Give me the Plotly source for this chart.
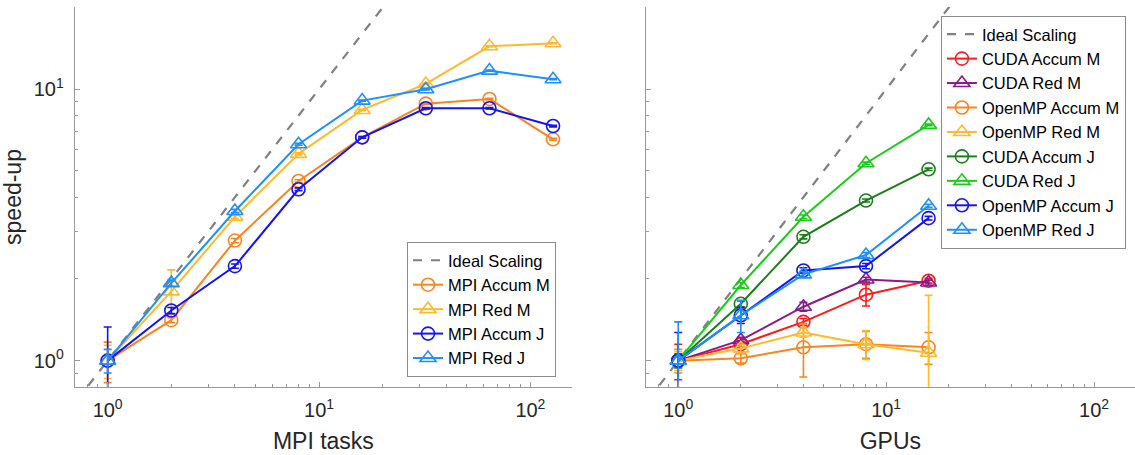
import plotly.graph_objects as go

# ---------------- data ----------------
mpi_tasks = [1, 2, 4, 8, 16, 32, 64, 128]
mpi_accum_m = [1.0, 1.41, 2.77, 4.59, 6.65, 8.85, 9.21, 6.54]
mpi_red_m = [1.0, 1.80, 3.39, 5.78, 8.39, 10.46, 14.4, 14.77]
mpi_accum_j = [1.0, 1.53, 2.23, 4.28, 6.65, 8.51, 8.51, 7.32]
mpi_red_j = [1.0, 1.93, 3.56, 6.27, 9.08, 10.0, 11.71, 10.89]
mpi_accum_m_err = [0.17, 0.03, 0.05, 0.05, 0.05, 0.05, 0.05, 0.05]
mpi_red_m_err = [0.14, 0.36, 0.05, 0.05, 0.05, 0.05, 0.05, 0.05]
mpi_accum_j_err = [0.33, 0.04, 0.04, 0.05, 0.05, 0.05, 0.05, 0.05]
mpi_red_j_err = [0.10, 0.05, 0.05, 0.05, 0.05, 0.05, 0.05, 0.05]

gpus = [1, 2, 4, 8, 16]
cuda_accum_m = [1.0, 1.15, 1.39, 1.75, 1.97]
cuda_red_m = [1.0, 1.19, 1.58, 1.99, 1.94]
omp_accum_m = [1.0, 1.02, 1.12, 1.15, 1.12]
omp_red_m = [1.0, 1.11, 1.27, 1.15, 1.07]
cuda_accum_j = [1.0, 1.62, 2.86, 3.89, 5.07]
cuda_red_j = [1.0, 1.90, 3.39, 5.34, 7.39]
omp_accum_j = [1.0, 1.47, 2.15, 2.23, 3.35]
omp_red_j = [1.0, 1.47, 2.08, 2.45, 3.72]
cuda_accum_m_err = [0.15, 0.03, 0.04, 0.16, 0.04]
cuda_red_m_err = [0.05, 0.03, 0.06, 0.04, 0.04]
omp_accum_m_err = [0.10, 0.04, 0.25, 0.13, 0.15]
omp_red_m_err = [0.08, 0.04, 0.05, 0.14, 0.67]
cuda_accum_j_err = [0.06, 0.04, 0.05, 0.05, 0.05]
cuda_red_j_err = [0.05, 0.04, 0.05, 0.05, 0.05]
omp_accum_j_err = [0.27, 0.10, 0.05, 0.05, 0.05]
omp_red_j_err = [0.39, 0.20, 0.05, 0.05, 0.05]

ideal = [0.5, 300]

x_ticks = [1, 10, 100]
x_tick_text = ["10<sup>0</sup>", "10<sup>1</sup>", "10<sup>2</sup>"]
y_ticks = [1, 10]
y_tick_text = ["10<sup>0</sup>", "10<sup>1</sup>"]

# ---------------- styling ----------------
FONT = "Liberation Sans, Arial, Helvetica, sans-serif"
C = {
    "orange": "#FA8420",
    "yellow": "#FDBA2C",
    "blue": "#1414F0",
    "lblue": "#1E8FFF",
    "red": "#FF1A1A",
    "purple": "#8A1A8A",
    "dgreen": "#1A7F1A",
    "green": "#1ACC1A",
}

fig = go.Figure()


def add_series(x, y, err, name, color, symbol, xa, ya, legend):
    fig.add_trace(go.Scatter(
        x=x, y=y, name=name, mode="lines+markers",
        line=dict(color=color, width=2),
        marker=dict(symbol=symbol, size=13 if "circle" in symbol else 14,
                    color=color, line=dict(color=color, width=1.6)),
        error_y=dict(type="data", array=err, visible=True, color=color,
                     thickness=1.6, width=4),
        xaxis=xa, yaxis=ya, legend=legend, cliponaxis=True,
    ))


def add_ideal(xa, ya, legend):
    fig.add_trace(go.Scatter(
        x=ideal, y=ideal, name="Ideal Scaling", mode="lines",
        line=dict(color="#808080", width=2.2, dash="dash"),
        xaxis=xa, yaxis=ya, legend=legend,
    ))


# left panel
add_ideal("x", "y", "legend")
add_series(mpi_tasks, mpi_accum_m, mpi_accum_m_err, "MPI Accum M", C["orange"], "circle-open", "x", "y", "legend")
add_series(mpi_tasks, mpi_red_m, mpi_red_m_err, "MPI Red M", C["yellow"], "triangle-up-open", "x", "y", "legend")
add_series(mpi_tasks, mpi_accum_j, mpi_accum_j_err, "MPI Accum J", C["blue"], "circle-open", "x", "y", "legend")
add_series(mpi_tasks, mpi_red_j, mpi_red_j_err, "MPI Red J", C["lblue"], "triangle-up-open", "x", "y", "legend")

# right panel
add_ideal("x2", "y2", "legend2")
add_series(gpus, cuda_accum_m, cuda_accum_m_err, "CUDA Accum M", C["red"], "circle-open", "x2", "y2", "legend2")
add_series(gpus, cuda_red_m, cuda_red_m_err, "CUDA Red M", C["purple"], "triangle-up-open", "x2", "y2", "legend2")
add_series(gpus, omp_accum_m, omp_accum_m_err, "OpenMP Accum M", C["orange"], "circle-open", "x2", "y2", "legend2")
add_series(gpus, omp_red_m, omp_red_m_err, "OpenMP Red M", C["yellow"], "triangle-up-open", "x2", "y2", "legend2")
add_series(gpus, cuda_accum_j, cuda_accum_j_err, "CUDA Accum J", C["dgreen"], "circle-open", "x2", "y2", "legend2")
add_series(gpus, cuda_red_j, cuda_red_j_err, "CUDA Red J", C["green"], "triangle-up-open", "x2", "y2", "legend2")
add_series(gpus, omp_accum_j, omp_accum_j_err, "OpenMP Accum J", C["blue"], "circle-open", "x2", "y2", "legend2")
add_series(gpus, omp_red_j, omp_red_j_err, "OpenMP Red J", C["lblue"], "triangle-up-open", "x2", "y2", "legend2")

x_minor = [m * d for d in (0.1, 1, 10, 100) for m in range(2, 10)]
y_minor = [0.8, 0.9, 2, 3, 4, 5, 6, 7, 8, 9, 20]
AX_COL = "#9a9a9a"
TXT_COL = "#262626"

xcommon = dict(
    type="log", range=[-0.156, 2.197], tickmode="array", tickvals=x_ticks,
    ticktext=x_tick_text, ticks="inside", ticklen=5, tickcolor=AX_COL,
    showline=True, linecolor=AX_COL, linewidth=1, showgrid=False, zeroline=False,
    mirror=False, tickfont=dict(family=FONT, size=20, color=TXT_COL),
    ticklabelstandoff=5,
    minor=dict(tickmode="array", tickvals=x_minor, ticks="inside", ticklen=3,
               tickcolor=AX_COL, showgrid=False),
    title=dict(font=dict(family=FONT, size=23, color=TXT_COL), standoff=12),
    automargin=False,
)
ycommon = dict(
    type="log", range=[-0.097, 1.303], tickmode="array", tickvals=y_ticks,
    ticks="inside", ticklen=5, tickcolor=AX_COL,
    showline=True, linecolor=AX_COL, linewidth=1, showgrid=False, zeroline=False,
    mirror=False, tickfont=dict(family=FONT, size=20, color=TXT_COL),
    minor=dict(tickmode="array", tickvals=y_minor, ticks="inside", ticklen=3,
               tickcolor=AX_COL, showgrid=False),
    domain=[0.1495, 0.9846], automargin=False,
)

LEG_FONT = dict(family=FONT, size=16.5, color="#000000")

fig.update_layout(
    width=1135, height=455,
    margin=dict(l=0, r=0, t=0, b=0),
    paper_bgcolor="white", plot_bgcolor="white",
    font=dict(family=FONT, color=TXT_COL),
    showlegend=True,
    xaxis=dict(xcommon, domain=[0.0658, 0.504], anchor="y",
               title=dict(xcommon["title"], text="MPI tasks")),
    yaxis=dict(ycommon, anchor="x", ticktext=y_tick_text, ticklabelstandoff=6,
               title=dict(text="speed-up", font=dict(family=FONT, size=23, color=TXT_COL),
                          standoff=8)),
    xaxis2=dict(xcommon, domain=[0.569, 1.0], anchor="y2",
                title=dict(xcommon["title"], text="GPUs")),
    yaxis2=dict(ycommon, anchor="x2", ticktext=["", ""], showticklabels=False),
    legend=dict(x=0.3586, y=0.1714, xanchor="left", yanchor="bottom",
                bgcolor="white", bordercolor="#8c8c8c", borderwidth=1,
                font=LEG_FONT, tracegroupgap=0, itemsizing="trace"),
    legend2=dict(x=0.829, y=0.965, xanchor="left", yanchor="top",
                 bgcolor="white", bordercolor="#8c8c8c", borderwidth=1,
                 font=LEG_FONT, tracegroupgap=0, itemsizing="trace"),
)

fig.write_html("out.html")
